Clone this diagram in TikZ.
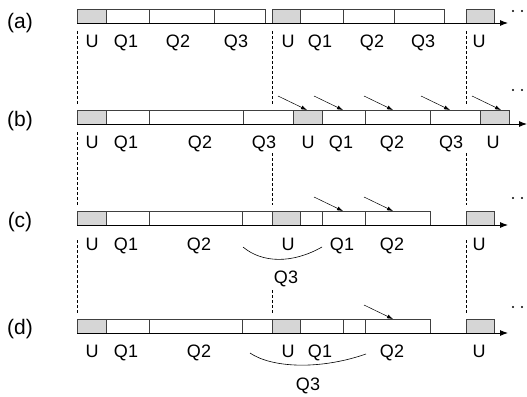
\documentclass[tikz,border=0pt]{standalone}
\usepackage{fontspec}
\setmainfont{Liberation Sans}
\usetikzlibrary{arrows.meta, calc}
\definecolor{slotgray}{HTML}{D6D6D6}

\begin{document}
\begin{tikzpicture}[x=1pt, y=-1pt,
		slot/.style={draw=black!75, line width=0.5pt, fill=white},
		uslot/.style={slot, fill=slotgray},
		timeaxis/.style={-{Latex[length=8pt,width=6pt]}, line width=0.9pt},
		hint/.style={-{Latex[length=6pt,width=4pt]}, line width=0.5pt},
		guide/.style={dash pattern=on 3pt off 2pt, line width=0.5pt},
		brace/.style={line width=0.6pt},
		lbl/.style={font=\fontsize{18}{20}\selectfont, anchor=base, inner sep=0pt},
		tag/.style={font=\fontsize{21}{24}\selectfont, inner sep=0pt}
		]
		
		\useasboundingbox (0,0) rectangle (527,396);
		
		% dashed guides between the rows
		\foreach \x in {77,272,466} \draw[guide] (\x,31) -- (\x,104);
		\draw[guide] (77,132) -- (77,205);
		\foreach \x in {272,466} \draw[guide] (\x,153) -- (\x,205);
		\foreach \x in {77,466} \draw[guide] (\x,240) -- (\x,313);
		\draw[guide] (272,290) -- (272,313);
		
		% row (a)
		\node[tag] (taga) at (20,23) {(a)};
		\foreach \a/\b/\s in {77/106/uslot, 106/149/slot, 149/214/slot, 214/265/slot,
			272/300/uslot, 300/343/slot, 343/394/slot, 394/444/slot, 466/494/uslot}
		\draw[\s] (\a,9) rectangle (\b,23);
		\draw[timeaxis] (77,23) -- (508,23);
		\foreach \x/\t [count=\i] in {92/U, 126/Q1, 178/Q2, 236/Q3, 288/U, 320/Q1, 372/Q2, 423/Q3, 479/U}
		\node[lbl] (la\i) at (\x,48) {\t};
		\fill (513,11) circle (1.1pt) (522,11) circle (1.1pt);
		
		% row (b)
		\node[tag] (tagb) at (20,121) {(b)};
		\foreach \a/\b/\s in {77/106/uslot, 106/149/slot, 149/243/slot, 243/293/slot,
			293/322/uslot, 322/365/slot, 365/430/slot, 430/480/slot, 480/509/uslot}
		\draw[\s] (\a,110) rectangle (\b,124);
		\draw[timeaxis] (77,124) -- (527,124);
		\foreach \x/\t [count=\i] in {92/U, 126/Q1, 200/Q2, 264/Q3, 308/U, 341/Q1, 392/Q2, 451/Q3, 493/U}
		\node[lbl] (lb\i) at (\x,148) {\t};
		\foreach \x [count=\i] in {307,343,393,450,501} {
			\coordinate (hb\i) at (\x,110);
			\draw[hint] ($(hb\i)+(-29,-14)$) -- (hb\i);
		}
		\fill (513,90) circle (1.1pt) (522,90) circle (1.1pt);
		
		% row (c)
		\node[tag] (tagc) at (20,222) {(c)};
		\foreach \a/\b/\s in {77/106/uslot, 106/149/slot, 149/242/slot, 242/272/slot,
			272/300/uslot, 300/322/slot, 322/365/slot, 365/430/slot, 466/494/uslot}
		\draw[\s] (\a,211) rectangle (\b,225);
		\draw[timeaxis] (77,225) -- (508,225);
		\foreach \x/\t [count=\i] in {92/U, 126/Q1, 199/Q2, 288/U, 342/Q1, 392/Q2, 479/U}
		\node[lbl] (lc\i) at (\x,250) {\t};
		\foreach \x [count=\i] in {343,393} {
			\coordinate (hc\i) at (\x,211);
			\draw[hint] ($(hc\i)+(-29,-14)$) -- (hc\i);
		}
		\draw[brace] (243,247) .. controls (262,263) and (292,264) .. (322,247);
		\node[lbl] (lcq) at (286,283) {Q3};
		\fill (513,198) circle (1.1pt) (522,198) circle (1.1pt);
		
		% row (d)
		\node[tag] (tagd) at (20,329) {(d)};
		\foreach \a/\b/\s in {77/106/uslot, 106/149/slot, 149/242/slot, 242/272/slot,
			272/300/uslot, 300/343/slot, 343/365/slot, 365/430/slot, 466/494/uslot}
		\draw[\s] (\a,319) rectangle (\b,333);
		\draw[timeaxis] (77,333) -- (508,333);
		\foreach \x/\t [count=\i] in {92/U, 126/Q1, 199/Q2, 288/U, 320/Q1, 392/Q2, 479/U}
		\node[lbl] (ld\i) at (\x,357) {\t};
		\coordinate (hd1) at (393,319);
		\draw[hint] ($(hd1)+(-29,-14)$) -- (hd1);
		\draw[brace] (250,353) .. controls (272,368) and (320,370) .. (366,354);
		\node[lbl] (ldq) at (308,390) {Q3};
		\fill (513,307) circle (1.1pt) (522,307) circle (1.1pt);
		
	\end{tikzpicture}
\end{document}
